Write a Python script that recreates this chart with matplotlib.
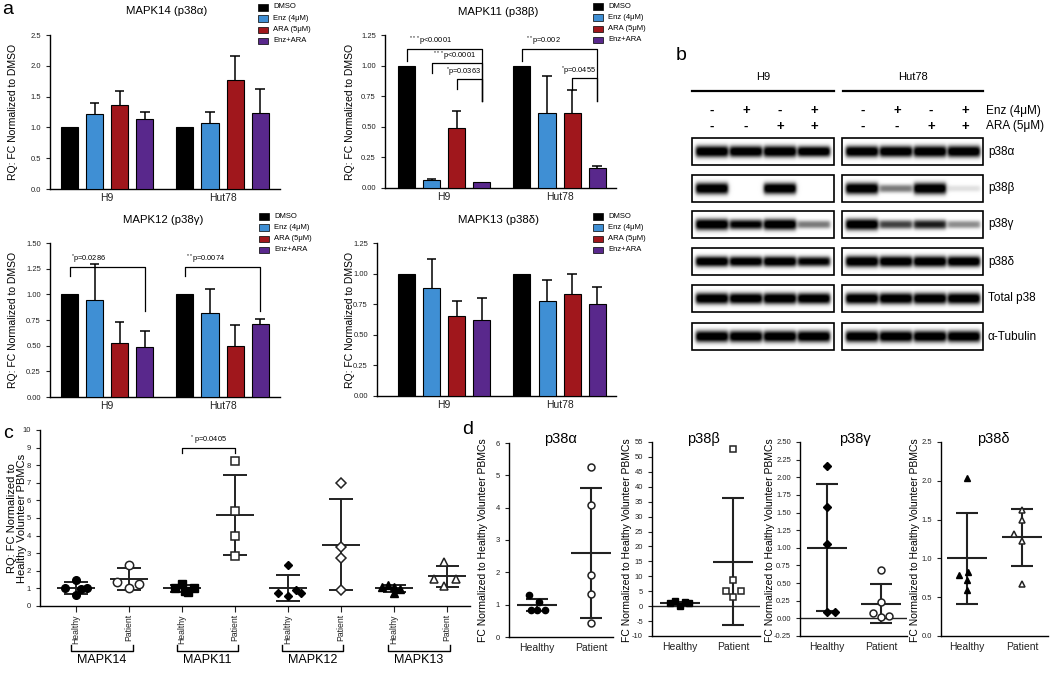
import matplotlib.pyplot as plt
import numpy as np
from matplotlib.patches import Rectangle

plt.rcParams['font.family'] = ['Liberation Sans', 'DejaVu Sans']
plt.rcParams['mathtext.fontset'] = 'custom'
plt.rcParams['mathtext.rm'] = 'Liberation Sans'

W, H = 1050, 675

# ---------------- panel a : qPCR in cell lines ----------------
treatments = ['DMSO', 'Enz (4μM)', 'ARA (5μM)', 'Enz+ARA']
colors = ['#000000', '#3f8fd4', '#a0171c', '#59288c']
cell_lines = ['H9', 'Hut78']

mapk14_mean = [[1.00, 1.22, 1.37, 1.14], [1.00, 1.07, 1.77, 1.23]]
mapk14_err = [[0, 0.17, 0.22, 0.11], [0, 0.18, 0.39, 0.40]]
mapk11_mean = [[1.00, 0.065, 0.49, 0.05], [1.00, 0.61, 0.61, 0.165]]
mapk11_err = [[0, 0.012, 0.14, 0], [0, 0.305, 0.19, 0.017]]
mapk12_mean = [[1.00, 0.94, 0.53, 0.49], [1.00, 0.82, 0.50, 0.71]]
mapk12_err = [[0, 0.36, 0.20, 0.15], [0, 0.23, 0.20, 0.045]]
mapk13_mean = [[1.00, 0.88, 0.65, 0.62], [1.00, 0.775, 0.83, 0.755]]
mapk13_err = [[0, 0.24, 0.13, 0.18], [0, 0.17, 0.17, 0.135]]

# ---------------- panel b : western blot band intensities ----------------
blot_rows = ['p38α', 'p38β', 'p38γ', 'p38δ', 'Total p38', 'α-Tubulin']
enz_signs = ['-', '+', '-', '+']
ara_signs = ['-', '-', '+', '+']
bands_h9 = [[1.0, 0.95, 1.0, 0.85],
            [1.0, 0.0, 0.95, 0.0],
            [0.95, 0.7, 0.9, 0.35],
            [0.8, 0.75, 0.8, 0.7],
            [0.95, 0.9, 0.95, 0.9],
            [1.0, 1.0, 1.0, 1.0]]
bands_hut78 = [[0.95, 0.95, 1.0, 1.0],
               [1.0, 0.35, 1.0, 0.08],
               [0.95, 0.5, 0.6, 0.3],
               [0.95, 0.9, 0.9, 0.85],
               [0.95, 0.95, 0.95, 0.95],
               [1.0, 1.0, 1.0, 1.0]]

# ---------------- panel c : patient PBMCs ----------------
c_genes = ['MAPK14', 'MAPK11', 'MAPK12', 'MAPK13']
c_healthy = [[1.0, 1.5, 0.98, 1.0, 0.65],
             [1.05, 1.25, 0.8, 1.05, 0.85],
             [2.35, 0.74, 0.55, 0.89, 0.74],
             [1.1, 1.2, 1.1, 0.95, 0.75]]
c_healthy_jit = [[-0.2, 0, 0.1, 0.2, 0],
                 [-0.13, 0, 0.11, 0.22, 0.05],
                 [0, -0.2, 0, 0.15, 0.24],
                 [-0.23, -0.12, 0, 0.11, 0]]
c_patient = [[1.35, 2.35, 1.0, 1.25],
             [8.25, 5.4, 4.0, 2.85],
             [7.0, 3.35, 2.7, 0.9],
             [2.5, 1.52, 1.52, 1.14]]
c_patient_jit = [[-0.22, 0, 0, 0.18],
                 [0, 0, 0, 0],
                 [0, 0, 0, 0],
                 [-0.06, -0.25, 0.16, -0.06]]
c_mean_h = [1.02, 1.0, 1.02, 1.0]
c_sd_h = [0.33, 0.2, 0.73, 0.2]
c_mean_p = [1.52, 5.16, 3.49, 1.69]
c_sd_p = [0.62, 2.28, 2.58, 0.59]
c_markers = ['o', 's', 'D', '^']

# ---------------- panel d : p38 isoforms per group ----------------
d_titles = ['p38α', 'p38β', 'p38γ', 'p38δ']
d_groups = ['Healthy', 'Patient']
d_healthy = [[1.31, 1.08, 0.82, 0.82, 0.82],
             [1.75, 0.1, 1.4, 0.96, 0.96],
             [2.16, 1.58, 1.05, 0.09, 0.09],
             [2.04, 0.82, 0.78, 0.72, 0.59]]
d_healthy_jit = [[-0.14, 0.03, -0.11, 0.0, 0.15],
                 [-0.09, 0, 0.09, 0.16, -0.19],
                 [0, 0, 0, 0, 0.14],
                 [0, 0.02, -0.15, 0, 0]]
d_patient = [[5.25, 4.08, 1.92, 1.32, 0.42],
             [52.5, 8.8, 5.1, 5.0, 3.0],
             [0.69, 0.23, 0.08, 0.02, 0.03],
             [1.63, 1.49, 1.31, 1.23, 0.67]]
d_patient_jit = [[0, 0, 0, 0, 0],
                 [0, 0, -0.14, 0.16, 0],
                 [0, 0, -0.14, 0, 0.14],
                 [0, 0, -0.15, 0, 0]]
d_mean_h = [0.99, 0.95, 1.0, 1.0]
d_sd_h = [0.19, 0.6, 0.9, 0.59]
d_mean_p = [2.6, 14.9, 0.21, 1.27]
d_sd_p = [2.0, 21.3, 0.28, 0.37]
d_h_markers = ['o', 's', 'D', '^']
d_p_markers = ['o', 's', 'o', '^']


def px(l, t, r, b):
    return [l / W, 1 - b / H, (r - l) / W, (b - t) / H]


def style_axis(ax, labelsize=5.5):
    for s in ['top', 'right']:
        ax.spines[s].set_visible(False)
    for s in ['left', 'bottom']:
        ax.spines[s].set_linewidth(1.0)
    ax.tick_params(axis='both', direction='out', length=3, width=0.8,
                   labelsize=labelsize, colors='#222222')
    ax.patch.set_alpha(0)


fig = plt.figure(figsize=(W / 100, H / 100), dpi=100)
ov = fig.add_axes([0, 0, 1, 1])
ov.axis('off')

GAP = 4.6


def bar_panel(rect, means, errs, ylim, yticks, fmt, xlim):
    ax = fig.add_axes(px(*rect))
    for i in range(len(treatments)):
        xs = [g * GAP + i for g in range(len(cell_lines))]
        vals = [m[i] for m in means]
        ups = [e[i] for e in errs]
        ax.bar(xs, vals, width=0.68, color=colors[i], edgecolor='black',
               linewidth=0.8, zorder=3)
        for x, v, u in zip(xs, vals, ups):
            if u > 0:
                ax.vlines(x, v, v + u, color='black', lw=1.1, zorder=2)
                ax.hlines(v + u, x - 0.19, x + 0.19, color='black', lw=1.1, zorder=2)
    ax.set_xlim(*xlim)
    ax.set_ylim(*ylim)
    ax.set_yticks(yticks)
    ax.set_yticklabels([fmt % t for t in yticks])
    ax.set_xticks([g * GAP + 1.5 for g in range(len(cell_lines))])
    ax.set_xticklabels(cell_lines)
    style_axis(ax)
    ax.tick_params(axis='x', length=0, labelsize=7.5, pad=3)
    return ax


def bracket(ax, x0, x1, y, yl, yr):
    ax.plot([x0, x0, x1, x1], [yl, y, y, yr], color='black', lw=0.9,
            clip_on=False, zorder=4)


def sig(ax, x, y, stars, ptxt, ha='left'):
    ax.text(x, y, r'$^{' + stars + '}$' + ptxt, fontsize=5.3, ha=ha, va='bottom')


a1 = bar_panel((50, 35, 280, 189), mapk14_mean, mapk14_err, (0, 2.5),
               [0, 0.5, 1.0, 1.5, 2.0, 2.5], '%.1f', (-0.78, 8.39))
a2 = bar_panel((385, 35, 616, 188), mapk11_mean, mapk11_err, (0, 1.25),
               [0, 0.25, 0.5, 0.75, 1.0, 1.25], '%.2f', (-0.86, 8.35))
a3 = bar_panel((50, 243, 280, 397), mapk12_mean, mapk12_err, (0, 1.5),
               [0, 0.25, 0.5, 0.75, 1.0, 1.25, 1.5], '%.2f', (-0.78, 8.39))
a4 = bar_panel((377, 243, 616, 396), mapk13_mean, mapk13_err, (0, 1.25),
               [0, 0.25, 0.5, 0.75, 1.0, 1.25], '%.2f', (-1.18, 8.35))

# significance marks, MAPK11
bracket(a2, 0, 3, 1.136, 1.04, 0.71)
sig(a2, 0.1, 1.14, '***', 'p<0.0001')
bracket(a2, 1, 3, 1.02, 0.943, 0.71)
sig(a2, 1.05, 1.024, '***', 'p<0.0001')
bracket(a2, 2, 3, 0.889, 0.807, 0.71)
sig(a2, 2.95, 0.893, '*', 'p=0.0363', ha='right')
bracket(a2, GAP, GAP + 3, 1.136, 1.04, 0.71)
sig(a2, GAP + 0.15, 1.14, '**', 'p=0.002')
bracket(a2, GAP + 2, GAP + 3, 0.897, 0.80, 0.71)
sig(a2, GAP + 2.95, 0.90, '*', 'p=0.0455', ha='right')
# MAPK12
bracket(a3, 0, 3, 1.27, 1.175, 0.834)
sig(a3, 0.05, 1.275, '*', 'p=0.0286')
bracket(a3, GAP, GAP + 3, 1.27, 1.175, 0.834)
sig(a3, GAP + 0.05, 1.275, '**', 'p=0.0074')

# titles, ylabels, legends for panel a
for (x, y, t) in [(167, 11, 'MAPK14 (p38α)'), (498, 12, 'MAPK11 (p38β)'),
                  (163, 220, 'MAPK12 (p38γ)'), (498, 220, 'MAPK13 (p38δ)')]:
    ov.text(x, y, t, fontsize=8.2, ha='center', va='center')
for (x, y) in [(13, 112), (350, 112), (13, 320), (350, 320)]:
    ov.text(x, y, 'RQ: FC Normalized to DMSO', fontsize=7.5, rotation=90,
            ha='center', va='center')
for (lx, ly) in [(258, 7), (593, 6), (259, 216), (593, 216)]:
    for i, (name, c) in enumerate(zip(treatments, colors)):
        yy = ly + i * 11.3
        ov.add_patch(Rectangle((lx, yy - 3), 10, 6.5, facecolor=c,
                               edgecolor='black', lw=0.5))
        ov.text(lx + 15, yy, name, fontsize=5.5, va='center', ha='left')

# ---------------- panel b drawing ----------------
box_tops = [138, 175, 211, 248, 285, 323]
box_h = 27
h9_box = (692, 834)
hut_box = (842, 983)
lane_off = [20, 54, 88, 122]


def blot_image(levels, bw, bh, sc=4):
    xs = (np.arange(int(bw * sc)) + 0.5) / sc
    ys = (np.arange(int(bh * sc)) + 0.5) / sc
    X, Y = np.meshgrid(xs, ys)
    dark = np.zeros_like(X)
    for off, lev in zip(lane_off, levels):
        if lev <= 0:
            continue
        hx = 0.5 * (np.tanh((X - off + 16) / 2.0) - np.tanh((X - off - 16) / 2.0))
        hh = 3.0 + 2.8 * lev
        vy = np.exp(-np.abs((Y - bh / 2) / hh) ** 2.5)
        dark += min(1.0, 1.3 * lev) * hx * vy
    return 1 - np.clip(1.15 * dark, 0, 1)


for r, name in enumerate(blot_rows):
    top = box_tops[r]
    for (l, rr), levels in [(h9_box, bands_h9[r]), (hut_box, bands_hut78[r])]:
        img = blot_image(levels, rr - l, box_h)
        ov.imshow(img, extent=(l, rr, top + box_h, top), cmap='gray',
                  vmin=0, vmax=1, interpolation='bilinear', aspect='auto')
        ov.add_patch(Rectangle((l, top), rr - l, box_h, fill=False,
                               edgecolor='black', lw=1.2))
    ov.text(988, top + box_h / 2, name, fontsize=8.5, ha='left', va='center')

for (l, rr), lab in [(h9_box, 'H9'), ((843, 983), 'Hut78')]:
    ov.plot([l, rr], [91, 91], color='black', lw=1.6)
    ov.text((l + rr) / 2, 77, lab, fontsize=8, ha='center', va='center')
    for i in range(4):
        ov.text(l + lane_off[i], 111, enz_signs[i], fontsize=9.5, ha='center',
                va='center', fontweight='bold')
        ov.text(l + lane_off[i], 127, ara_signs[i], fontsize=9.5, ha='center',
                va='center', fontweight='bold')
ov.text(986, 111, 'Enz (4μM)', fontsize=8.5, ha='left', va='center')
ov.text(986, 126, 'ARA (5μM)', fontsize=8.5, ha='left', va='center')


# ---------------- panel c drawing ----------------
def mean_sd(ax, x, m, s, mw, cw, lw=1.4):
    ax.hlines(m, x - mw, x + mw, color='#222222', lw=lw, zorder=2)
    ax.vlines(x, m - s, m + s, color='#222222', lw=lw, zorder=2)
    ax.hlines([m - s, m + s], x - cw, x + cw, color='#222222', lw=lw, zorder=2)


axc = fig.add_axes(px(40, 430, 470, 606))
for k in range(len(c_genes)):
    xh, xp = 2 * k, 2 * k + 1
    mean_sd(axc, xh, c_mean_h[k], c_sd_h[k], 0.36, 0.22)
    mean_sd(axc, xp, c_mean_p[k], c_sd_p[k], 0.36, 0.22)
    msz = 4.5 if c_markers[k] == 'D' else 5.5
    axc.plot(xh + np.array(c_healthy_jit[k]), c_healthy[k], ls='none',
             marker=c_markers[k], ms=msz, mfc='black', mec='black', zorder=3)
    axc.plot(xp + np.array(c_patient_jit[k]), c_patient[k], ls='none',
             marker=c_markers[k], ms=msz + 0.5, mfc='white', mec='#222222',
             mew=1.1, zorder=3)
axc.set_xlim(-0.68, 7.43)
axc.set_ylim(0, 10)
axc.set_yticks(range(0, 11))
axc.set_xticks(range(8))
axc.set_xticklabels(['Healthy', 'Patient'] * 4, rotation=90)
style_axis(axc)
axc.tick_params(axis='x', length=4, labelsize=6.2, pad=2)
bracket(axc, 2, 3, 8.96, 8.67, 8.67)
axc.text(2.5, 9.05, r'$^{*}$ p=0.0405', fontsize=5.3, ha='center', va='bottom')
ov.text(17, 518, 'RQ: FC Normalized to\nHealthy Volunteer PBMCs', fontsize=8,
        rotation=90, ha='center', va='center', linespacing=1.1)
for k, (l, r) in enumerate([(71, 133), (177, 238), (282, 343), (388, 450)]):
    ov.plot([l, l, r, r], [645, 651, 651, 645], color='black', lw=1.0)
    ov.text((l + r) / 2, 660, c_genes[k], fontsize=9, ha='center', va='center')

# ---------------- panel d drawing ----------------
d_rects = [(509, 443, 613, 637), (652, 442, 760, 636),
           (800, 442, 907, 636), (941, 442, 1048, 636)]
d_xlims = [(-0.52, 1.41), (-0.53, 1.51), (-0.5, 1.48), (-0.47, 1.47)]
d_ylims = [(0, 6), (-10, 55), (-0.25, 2.5), (0, 2.5)]
d_yticks = [np.arange(0, 7, 1), np.arange(-10, 56, 5),
            np.arange(-0.25, 2.51, 0.25), np.arange(0, 2.51, 0.5)]
d_fmts = ['%d', '%d', '%.2f', '%.1f']
d_title_x = [560, 703, 855, 993]
d_ylab_x = [483, 627, 770, 915]
for k in range(4):
    ax = fig.add_axes(px(*d_rects[k]))
    mean_sd(ax, 0, d_mean_h[k], d_sd_h[k], 0.37, 0.2, lw=1.5)
    mean_sd(ax, 1, d_mean_p[k], d_sd_p[k], 0.37, 0.2, lw=1.5)
    mh = 4 if d_h_markers[k] == 'D' else 4.5
    ax.plot(0 + np.array(d_healthy_jit[k]), d_healthy[k], ls='none',
            marker=d_h_markers[k], ms=mh, mfc='black', mec='black', zorder=3)
    ax.plot(1 + np.array(d_patient_jit[k]), d_patient[k], ls='none',
            marker=d_p_markers[k], ms=5, mfc='white', mec='#222222', mew=1.1,
            zorder=3)
    if d_ylims[k][0] < 0:
        ax.axhline(0, color='#222222', lw=1.0, zorder=1)
    ax.set_xlim(*d_xlims[k])
    ax.set_ylim(*d_ylims[k])
    ax.set_yticks(d_yticks[k])
    ax.set_yticklabels([d_fmts[k] % t for t in d_yticks[k]])
    ax.set_xticks([0, 1])
    ax.set_xticklabels(d_groups)
    style_axis(ax, labelsize=5.5)
    ax.tick_params(axis='x', length=0, labelsize=7.5, pad=4)
    ov.text(d_title_x[k], 439, d_titles[k], fontsize=10.5, ha='center', va='center')
    ov.text(d_ylab_x[k], 540, 'FC Normalized to Healthy Volunteer PBMCs',
            fontsize=7.5, rotation=90, ha='center', va='center')

# panel letters
for (x, y, t) in [(8, 10, 'a'), (681, 55, 'b'), (8, 434, 'c'), (468, 430, 'd')]:
    ov.text(x, y, t, fontsize=14, ha='center', va='center')

ov.set_xlim(0, W)
ov.set_ylim(H, 0)
fig.savefig('out.png', dpi=100)
